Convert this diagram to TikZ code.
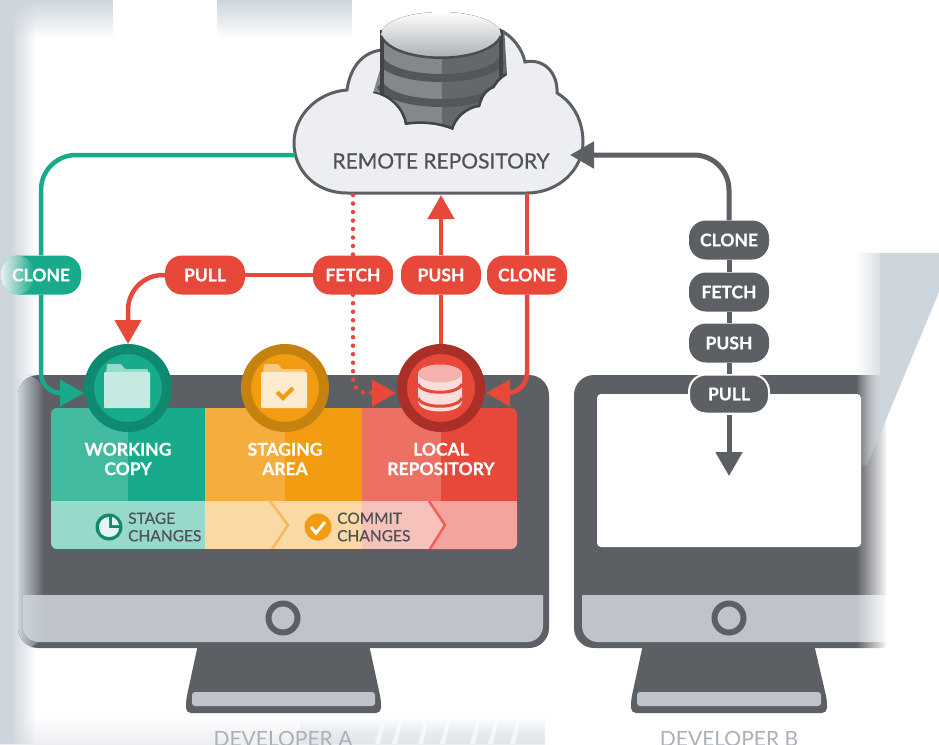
\documentclass[tikz,border=0pt]{standalone}
\usepackage{fontspec}
\setmainfont{Lato}
\newfontface\medfont[FakeBold=0.5]{Lato}
\newfontface\heavyfont[FakeBold=0.6]{Lato Bold}
\usetikzlibrary{arrows.meta,fadings}
\definecolor{screenGrey}{HTML}{5C6064}
\definecolor{chinGrey}{HTML}{BFC4CA}
\definecolor{stripGrey}{HTML}{CDD5DD}
\definecolor{cloudGrey}{HTML}{ECEEF1}
\definecolor{teal}{HTML}{17AB8B}
\definecolor{tealDark}{HTML}{0F8A70}
\definecolor{orangeMain}{HTML}{F39C12}
\definecolor{orangeDark}{HTML}{C6820F}
\definecolor{redMain}{HTML}{E8483A}
\definecolor{redDark}{HTML}{A92F27}
\begin{document}
\begin{tikzpicture}[x=1pt, y=-1pt,
	pill/.style = {rounded corners=17, minimum width=80, minimum height=39, inner sep=0, text=white, font=\fontsize{17.5}{19}\heavyfont},
	boxlabel/.style = {align=center, text=white, font=\fontsize{17.5}{19.5}\heavyfont},
	steplabel/.style = {align=left, anchor=west, inner sep=0, text=screenGrey!85!black, font=\fontsize{15.5}{17.5}\medfont},
	devlabel/.style = {text=chinGrey!90!black, font=\fontsize{21}{23}\selectfont},
	ring/.style = {circle, minimum size=78, inner sep=0, line width=10},
	tealline/.style = {draw=teal, line width=4.5},
	redline/.style = {draw=redMain, line width=4.5},
	greyline/.style = {draw=screenGrey, line width=5},
	headr/.style = {-{Triangle[length=24,width=26]}}]
	\useasboundingbox (0,0) rectangle (939,744);
	% backdrop
	\fill[white] (0,0) rectangle (939,744);
	\fill[top color=white, bottom color=cloudGrey] (0,716) rectangle (545,744);
	\fill[stripGrey!60!white, path fading=north] (300,718) rectangle (545,744);
	\foreach \sx in {375,392,418,440,470,488,510} \fill[white, opacity=.6] (\sx,744) -- (\sx+6,722) -- (\sx+10,722) -- (\sx+5,744) -- cycle;
	\fill[stripGrey, path fading=south] (0,0) rectangle (113,38);
	\fill[stripGrey, path fading=south] (217,0) rectangle (352,38);
	\fill[stripGrey] (0,0) rectangle (10,744);
	\fill[stripGrey, path fading=east] (10,0) rectangle (36,744);
	% monitor A
	\fill[screenGrey, rounded corners=20] (18,375) rectangle (549,648);
	\fill[screenGrey, rounded corners=5] (199,640) -- (368,640) -- (381,700) -- (381,713) -- (186,713) -- (186,700) -- cycle;
	\fill[chinGrey, rounded corners=3] (192,692) rectangle (375,706);
	\begin{scope}
		\clip (0,595) rectangle (939,650);
		\fill[chinGrey, rounded corners=16] (23,560) rectangle (543,642);
	\end{scope}
	\node[circle, draw=screenGrey, line width=6, fill=chinGrey, minimum size=29, inner sep=0] (btnA) at (283,618) {};
	% monitor B
	\fill[screenGrey, rounded corners=20] (574,375) rectangle (900,648);
	\fill[white, rounded corners=4] (597,394) rectangle (861,547);
	\fill[screenGrey, rounded corners=5] (644,640) -- (813,640) -- (827,700) -- (827,713) -- (631,713) -- (631,700) -- cycle;
	\fill[chinGrey, rounded corners=3] (637,692) rectangle (821,706);
	\begin{scope}
		\clip (0,595) rectangle (939,650);
		\fill[chinGrey, rounded corners=16] (582,560) rectangle (900,642);
	\end{scope}
	\node[circle, draw=screenGrey, line width=6, fill=chinGrey, minimum size=29, inner sep=0] (btnB) at (729,618) {};
	% edge fades
	\fill[white, path fading=west] (856,372) rectangle (888,652);
	\fill[white] (886,372) rectangle (905,652);
	\fill[stripGrey, path fading=east, rounded corners=20] (18,375) rectangle (44,648);
	% back wedge
	\fill[stripGrey, path fading=west] (856,253) -- (888,253) -- (888,414.5) -- (867,465) -- (856,465) -- cycle;
	\fill[stripGrey] (880,253) -- (939,253) -- (939,292) -- (880,434) -- cycle;
	% colour panel
	\begin{scope}
		\clip[rounded corners=6] (51,408) rectangle (517,549);
		\fill[teal] (51,408) rectangle (205,501);
		\fill[teal!82!white] (51,408) rectangle (128,501);
		\fill[orangeMain] (205,408) rectangle (362,501);
		\fill[orangeMain!82!white] (205,408) rectangle (285,501);
		\fill[redMain] (362,408) rectangle (517,501);
		\fill[redMain!78!white] (362,408) rectangle (441,501);
		\fill[teal!45!white] (51,501) rectangle (205,549);
		\fill[orangeMain!38!white] (205,501) rectangle (362,549);
		\fill[redMain!34!white] (362,501) rectangle (450,549);
		\fill[redMain!50!white] (430,501) -- (517,501) -- (517,549) -- (430,549) -- (446,525) -- cycle;
		\draw[orangeMain!70!white, line width=2.5] (270,501) -- (288,525) -- (272,549);
		\draw[redMain!85!white, line width=2.5] (429,501) -- (445,525) -- (430,549);
	\end{scope}
	% stage nodes
	\node[ring, draw=tealDark, fill=teal] (wc) at (128,388) {};
	\node[ring, draw=orangeDark, fill=orangeMain] (sa) at (285,388) {};
	\node[ring, draw=redDark, fill=redMain] (lr) at (441,388) {};
	\coordinate (wcin) at (84,393);
	\coordinate (lrin) at (396,393);
	\coordinate (lrout) at (486,393);
	% icons
	\foreach \cx/\back/\front in {127/teal!45!white/teal!25!white, 284/orangeMain!55!white/orangeMain!20!white} {
		\fill[\back, rounded corners=1] (\cx-21,374) -- (\cx-20,364) -- (\cx-6,364) -- (\cx-2,369) -- (\cx+21,369) -- (\cx+21,374) -- cycle;
		\fill[\front, rounded corners=1] (\cx-23,372) rectangle (\cx+23,408);
	}
	\draw[orangeMain, line width=4] (277,392) -- (283,398) -- (293,388);
	\fill[redMain!18!white] (418,374) -- (418,401) .. controls (418,415) and (462,415) .. (462,401) -- (462,374) -- cycle;
	\fill[redMain!42!white] (440,373.5) ellipse [x radius=22, y radius=9];
	\foreach \dy in {384,398}
		\draw[redMain, line width=3] (418,\dy) .. controls (422,\dy+11) and (458,\dy+11) .. (462,\dy);
	% labels on the panel
	\node[boxlabel] (wcl) at (128,459) {WORKING\\COPY};
	\node[boxlabel] (sal) at (285,459) {STAGING\\AREA};
	\node[boxlabel] (lrl) at (441,459) {LOCAL\\REPOSITORY};
	\node[circle, fill=tealDark, minimum size=27, inner sep=0] (stageicon) at (109,527) {};
	\fill[teal!12!white] (109,517) .. controls (103,517) and (99,522) .. (99,527) .. controls (99,533) and (103,537) .. (109,537) .. controls (115,537) and (119,533) .. (119,528) -- (109,528) -- cycle;
	\fill[teal!12!white] (112,517) -- (112,525) -- (119,525) .. controls (118,521) and (116,518) .. (112,517) -- cycle;
	\node[steplabel] (stagel) at (128,527) {STAGE\\CHANGES};
	\node[circle, fill=orangeMain, minimum size=27, inner sep=0] (commiticon) at (318,527) {};
	\draw[white, line width=3] (311,527) -- (316,533) -- (325,522);
	\node[steplabel] (commitl) at (337,527) {COMMIT\\CHANGES};
	% cloud
	\draw[draw=screenGrey, fill=cloudGrey, line width=3] (347,193) .. controls (315,193) and (294,170) .. (294,143)
		.. controls (294,115) and (318,92) .. (347,90) .. controls (350,68) and (362,52) .. (382,50)
		-- (500,30) .. controls (512,36) and (522,48) .. (525,62) .. controls (543,58) and (558,72) .. (557,93)
		.. controls (574,103) and (583,122) .. (583,142) .. controls (583,170) and (558,193) .. (527,193) -- cycle;
	\node[text=screenGrey!85!black, font=\fontsize{21}{23}\medfont] (remote) at (441,161) {REMOTE REPOSITORY};
	\coordinate (cloudw) at (295,155);
	\coordinate (cloudf) at (353,195);
	\coordinate (cloudp) at (441,195);
	\coordinate (cloudc) at (527,193);
	\coordinate (cloude) at (570,155);
	% database
	\begin{scope}
		\clip (380,10) -- (503,10) -- (507,75) .. controls (498,80) and (496,86) .. (494,88)
			.. controls (484,92) and (482,100) .. (480,107) .. controls (468,108) and (456,118) .. (453,130)
			.. controls (436,123) and (418,123) .. (405,125) .. controls (403,110) and (390,96) .. (373,93) -- (380,70) -- cycle;
		\fill[screenGrey!75!white] (370,30) rectangle (442,135);
		\fill[screenGrey!95!white] (442,30) rectangle (510,135);
		\foreach \by in {60,85} \draw[screenGrey!90!black, line width=8] (380,\by) .. controls (395,\by+24) and (487,\by+24) .. (502,\by);
		\draw[screenGrey!70!black, line width=4] (382,30) -- (382,100) (501,30) -- (501,80);
		\draw[screenGrey!70!black, line width=5] (373,94) .. controls (390,96) and (403,110) .. (405,125) .. controls (418,123) and (436,123) .. (453,130) .. controls (456,118) and (468,108) .. (480,107) .. controls (482,100) and (484,92) .. (494,88) .. controls (496,86) and (498,80) .. (507,75);
	\end{scope}
	\fill[top color=white, bottom color=chinGrey!90!black] (441,34.5) ellipse [x radius=60, y radius=22.5];
	\draw[screenGrey!80!black, line width=2.5] (381,36) .. controls (395,65) and (487,65) .. (501,36);
	% pills
	\node[pill, fill=teal] (clonew) at (41,275) {CLONE};
	\node[pill, fill=redMain] (pull) at (205,275) {PULL};
	\node[pill, fill=redMain] (fetch) at (353,275) {FETCH};
	\node[pill, fill=redMain] (push) at (441,275) {PUSH};
	\node[pill, fill=redMain] (clone) at (527,275) {CLONE};
	\node[pill, fill=screenGrey] (cloneb) at (729,240) {CLONE};
	\node[pill, fill=screenGrey] (fetchb) at (729,292) {FETCH};
	\node[pill, fill=screenGrey] (pushb) at (729,343) {PUSH};
	\node[pill, fill=screenGrey, draw=white, line width=2] (pullb) at (729,394) {PULL};
	\coordinate (devb) at (729,476);
	\fill[stripGrey!35!white, path fading=east, rounded corners=17] (1,255.5) rectangle (34,294.5);
	% connectors
	\draw[tealline, rounded corners=35] (cloudw) -| (clonew.north);
	\draw[tealline, headr, rounded corners=20] (clonew.south) |- (wcin);
	\draw[redline] (fetch.west) -- (pull.east);
	\draw[redline, headr, rounded corners=35] (pull.west) -| (wc.north);
	\draw[redline, line cap=round, dash pattern=on 0pt off 8.5pt] (cloudf) -- (fetch.north);
	\draw[redline, headr, line cap=round, dash pattern=on 0pt off 8.5pt, rounded corners=14] (fetch.south) |- (lrin);
	\draw[redline] (lr.north) -- (push.south);
	\draw[redline, headr] (push.north) -- (cloudp);
	\draw[redline] (cloudc) -- (clone.north);
	\draw[redline, headr, rounded corners=20] (clone.south) |- (lrout);
	\draw[greyline, headr, rounded corners=35] (cloneb.north) |- (cloude);
	\draw[greyline] (cloneb.south) -- (fetchb.north);
	\draw[greyline] (fetchb.south) -- (pushb.north);
	\draw[greyline] (pushb.south) -- (pullb.north);
	\draw[greyline, headr] (pullb.south) -- (devb);
	% developers
	\node[devlabel] (deva) at (283,739) {DEVELOPER A};
	\node[devlabel] (devbl) at (729,739) {DEVELOPER B};
\end{tikzpicture}
\end{document}
